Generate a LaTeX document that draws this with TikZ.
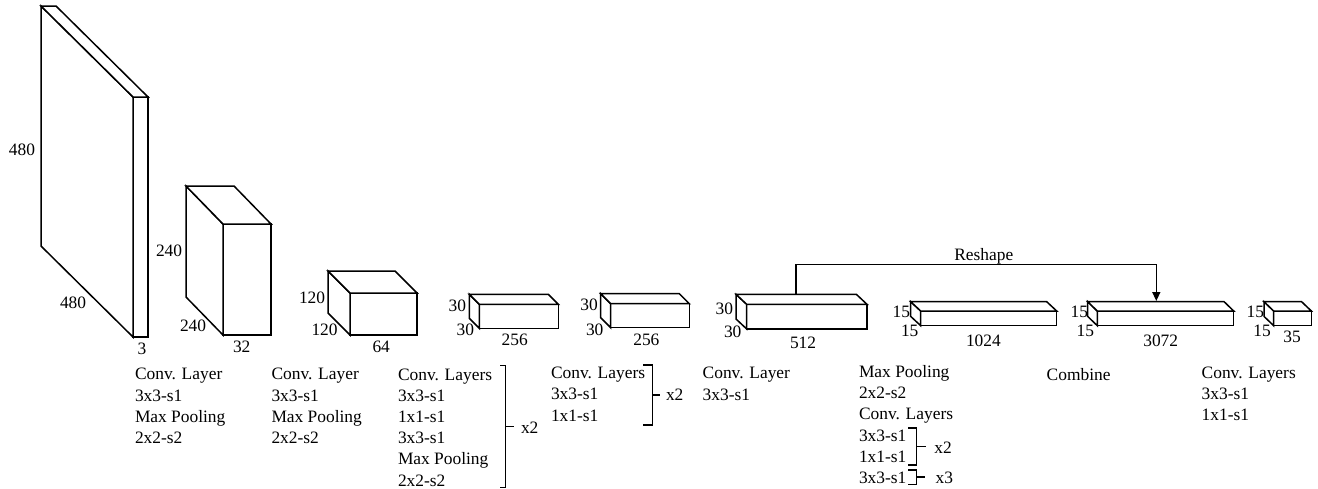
\documentclass[tikz,border=0pt]{standalone}
\usepackage{fontspec}
\setmainfont{Liberation Serif}
\usetikzlibrary{arrows.meta}
\tikzset{
  boxline/.style={draw=black,line width=1.5pt,line join=miter,fill=white},
  wire/.style={draw=black,line width=1.4pt},
  brace/.style={draw=black,line width=1.1pt},
  lbl/.style={anchor=base west,inner sep=0pt,outer sep=0pt,font=\fontsize{17.4pt}{21.2pt}\selectfont},
  listing/.style={lbl,align=left},
}
% name, back-top-left x y, front-top-left x y, front-bottom-right x y
\newcommand{\cuboid}[7]{%
  \draw[boxline] (#4,#5) rectangle (#6,#7);
  \draw[boxline] (#2,#3) -- (#4,#5) -- (#4,#7) -- (#2,#3+#7-#5) -- cycle;
  \draw[boxline] (#2,#3) -- (#6+#2-#4,#3) -- (#6,#5) -- (#4,#5) -- cycle;
  \coordinate (#1) at (#2,#3);
}
\begin{document}
\begin{tikzpicture}[x=1pt,y=-1pt]
\useasboundingbox[fill=white] (0,0) rectangle (1318,488);
\cuboid{b1}{41}{6}{133}{97}{148}{337}
\cuboid{b2}{186}{186}{223}{224}{271}{335}
\cuboid{b3}{328}{271}{350}{293}{417}{335}
\cuboid{b4}{469.3}{294.3}{479.3}{304.3}{558.3}{328.3}
\cuboid{b5}{600.7}{293.7}{610.7}{303.7}{689.3}{327.7}
\cuboid{b6}{736}{294.3}{746.7}{304.3}{867}{329}
\cuboid{b7}{910.7}{301.7}{920.7}{311}{1056.7}{325.7}
\cuboid{b8}{1087.7}{301.7}{1097.3}{311}{1233.7}{325.7}
\cuboid{b9}{1264}{301.7}{1273.7}{311}{1311.3}{325.7}
% dimensions
\node[lbl] (d1a) at (9,155) {480};
\node[lbl] (d1b) at (60,308) {480};
\node[lbl] (d1c) at (137.5,354) {3};
\node[lbl] (d2a) at (156,256.7) {240};
\node[lbl] (d2b) at (180,331.7) {240};
\node[lbl] (d2c) at (233,352.7) {32};
\node[lbl] (d3a) at (299,303.3) {120};
\node[lbl] (d3b) at (311.5,335.7) {120};
\node[lbl] (d3c) at (372.5,352.7) {64};
\node[lbl] (d4a) at (448.7,311.7) {30};
\node[lbl] (d4b) at (456.7,335.7) {30};
\node[lbl] (d4c) at (501.7,345) {256};
\node[lbl] (d5a) at (580.3,310) {30};
\node[lbl] (d5b) at (586,335.7) {30};
\node[lbl] (d5c) at (633.3,345) {256};
\node[lbl] (d6a) at (715.7,314) {30};
\node[lbl] (d6b) at (724,337.7) {30};
\node[lbl] (d6c) at (790,348.3) {512};
\node[lbl] (d7a) at (892.7,317.7) {15};
\node[lbl] (d7b) at (901,336) {15};
\node[lbl] (d7c) at (966,346.7) {1024};
\node[lbl] (d8a) at (1070.7,317.7) {15};
\node[lbl] (d8b) at (1076.7,336) {15};
\node[lbl] (d8c) at (1143.3,346.7) {3072};
\node[lbl] (d9a) at (1246.7,317.7) {15};
\node[lbl] (d9b) at (1253.3,336) {15};
\node[lbl] (d9c) at (1283.3,342.3) {35};
% layer lists (anchored at the baseline of the last line)
\node[listing] (t1) at (135,443.5) {Conv. Layer\\3x3-s1\\Max Pooling\\2x2-s2};
\node[listing] (t2) at (271.5,443.5) {Conv. Layer\\3x3-s1\\Max Pooling\\2x2-s2};
\node[listing] (t3) at (398,486) {Conv. Layers\\3x3-s1\\1x1-s1\\3x3-s1\\Max Pooling\\2x2-s2};
\node[listing] (t4) at (551,421) {Conv. Layers\\3x3-s1\\1x1-s1};
\node[listing] (t5) at (702.7,400) {Conv. Layer\\3x3-s1};
\node[listing] (t6) at (859,483.5) {Max Pooling\\2x2-s2\\Conv. Layers\\3x3-s1\\1x1-s1\\3x3-s1};
\node[lbl] (t7) at (1046.7,380) {Combine};
\node[listing] (t8) at (1201.7,420.5) {Conv. Layers\\3x3-s1\\1x1-s1};
% brackets
\draw[brace] (500,365.7) -- (505.7,365.7) -- (505.7,487.3) -- (500,487.3) (505.7,426.7) -- (514,426.7);
\node[lbl] (x1) at (521,433) {x2};
\draw[brace] (643.3,365) -- (652.7,365) -- (652.7,425) -- (643.3,425) (652.7,395) -- (660,395);
\node[lbl] (x2) at (666,400) {x2};
\draw[brace] (908,428) -- (916.7,428) -- (916.7,465) -- (908,465) (916.7,446.7) -- (926,446.7);
\node[lbl] (x3) at (934.3,453) {x2};
\draw[brace] (908,470) -- (916.7,470) -- (916.7,484.3) -- (908,484.3) (916.7,477) -- (925,477);
\node[lbl] (x4) at (935.7,483.3) {x3};
% reshape connector
\coordinate (from) at (796,294.3);
\coordinate (bend) at (796,264.5);
\coordinate (to) at (1156.3,301);
\draw[wire,-{Triangle[length=9pt,width=8pt]}] (from) -- (bend) -| (to);
\node[lbl] (r) at (954.3,260) {Reshape};
\end{tikzpicture}
\end{document}
